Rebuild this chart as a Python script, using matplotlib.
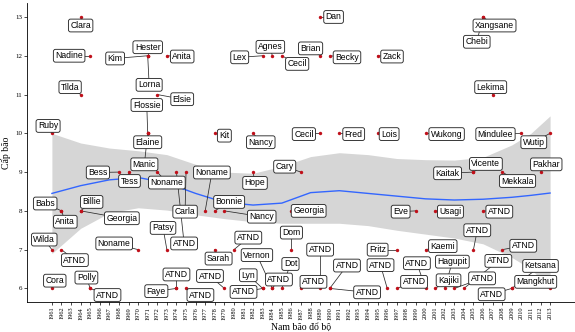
import matplotlib
matplotlib.use("Agg")
import matplotlib.pyplot as plt

# storms: name, landfall year, level
names = ["Ruby", "Babs", "Anita", "Wilda", "ATND", "Cora", "Clara", "Nadine", "Tilda",
         "Billie", "Georgia", "Polly", "ATND", "Bess", "Tess", "Noname", "Hester", "Kim",
         "Lorna", "Flossie", "Elaine", "Manic", "Elsie", "Anita", "Noname", "Patsy",
         "ATND", "Carla", "Faye", "ATND", "ATND", "Noname", "Kit", "Bonnie", "Nancy",
         "Sarah", "ATND", "ATND", "ATND", "Lyn", "Vernon", "Lex", "Agnes", "Cecil",
         "Nancy", "Hope", "ATND", "Dot", "Dom", "Georgia", "Cary", "ATND", "ATND",
         "ATND", "ATND", "Dan", "Brian", "Becky", "Cecil", "Fred", "Zack", "Lois",
         "Fritz", "ATND", "ATND", "Eve", "Wukong", "Kaemi", "ATND", "Usagi", "Kajiki",
         "Hagupit", "ATND", "ATND", "Kaitak", "Vicente", "ATND", "Xangsane", "Chebi",
         "ATND", "Lekima", "Mekkala", "ATND", "ATND", "Ketsana", "Mindulee", "Pakhar",
         "Wutip", "Mangkhut"]
years = [1961, 1962, 1962, 1961, 1962, 1961, 1964, 1965, 1964,
         1964, 1964, 1965, 1965, 1968, 1969, 1970, 1971, 1971,
         1971, 1971, 1971, 1971, 1972, 1973, 1972, 1973,
         1974, 1975, 1974, 1974, 1975, 1977, 1978, 1978, 1979,
         1978, 1980, 1979, 1983, 1983, 1984, 1983, 1984, 1985,
         1982, 1982, 1984, 1985, 1986, 1986, 1987, 1987, 1989,
         1990, 1990, 1989, 1989, 1990, 1989, 1991, 1995, 1995,
         1997, 1996, 1997, 1999, 2000, 2000, 2000, 2001, 2001,
         2002, 2003, 2004, 2005, 2005, 2005, 2006, 2006,
         2006, 2007, 2008, 2008, 2009, 2009, 2010, 2012,
         2013, 2013]
levels = [10, 8, 8, 7, 7, 6, 13, 12, 11,
          8, 8, 6, 6, 9, 9, 7, 12, 12,
          12, 10, 10, 10, 11, 12, 9, 7,
          9, 9, 6, 6, 6, 8, 10, 8, 8,
          7, 7, 6, 6, 6, 6, 12, 12, 12,
          10, 9, 6, 6, 7, 8, 9, 6, 6,
          6, 6, 13, 12, 12, 10, 10, 12, 10,
          7, 6, 6, 8, 10, 7, 6, 8, 6,
          6, 6, 6, 9, 9, 7, 13, 13,
          8, 11, 9, 7, 6, 6, 10, 9,
          10, 6]

# where each repelled label box sits
label_x = [1960.6, 1960.3, 1962.4, 1960.2, 1963.4, 1961.3, 1964.0, 1962.8, 1962.9,
           1965.15, 1968.3, 1964.6, 1966.8, 1965.8, 1969.1, 1967.5, 1971.0, 1967.6,
           1971.15, 1970.9, 1971.0, 1970.65, 1974.6, 1974.6, 1973.0, 1972.6,
           1974.8, 1974.9, 1971.9, 1974.0, 1976.5, 1977.7, 1979.0, 1979.5, 1982.9,
           1978.4, 1981.5, 1977.5, 1981.0, 1981.5, 1982.4, 1980.6, 1983.8, 1986.6,
           1982.8, 1982.2, 1984.7, 1985.9, 1986.0, 1987.8, 1985.3, 1988.3, 1989.0,
           1991.8, 1993.9, 1990.4, 1988.0, 1991.8, 1987.3, 1992.5, 1996.5, 1996.2,
           1995.0, 1995.3, 1998.8, 1997.4, 2002.2, 2001.8, 1999.1, 2002.6, 2002.4,
           2002.8, 2005.9, 2007.6, 2002.3, 2006.3, 2005.4, 2007.2, 2005.35,
           2007.7, 2006.8, 2009.6, 2010.2, 2006.9, 2012.0, 2007.3, 2012.6,
           2011.3, 2011.5]
label_y = [10.19, 8.19, 7.72, 7.26, 6.73, 6.2, 12.78, 12.0, 11.19,
           8.23, 7.81, 6.28, 5.83, 8.99, 8.77, 7.16, 12.22, 11.93,
           11.25, 10.73, 9.77, 9.2, 10.88, 11.98, 8.73, 7.56,
           7.16, 7.98, 5.93, 6.36, 5.83, 8.99, 9.94, 8.23, 7.85,
           6.77, 7.31, 6.32, 5.91, 6.34, 6.86, 11.96, 12.23, 11.79,
           9.77, 8.72, 6.23, 6.63, 7.44, 8.0, 9.14, 6.17, 7.0,
           6.59, 5.9, 13.0, 12.19, 11.96, 9.98, 9.98, 11.98, 9.98,
           7.0, 6.6, 6.17, 7.98, 9.98, 7.09, 6.65, 7.98, 6.21,
           6.69, 6.26, 6.71, 8.97, 9.21, 7.5, 12.78, 12.36,
           7.98, 11.19, 8.77, 7.1, 5.85, 6.58, 9.98, 9.2,
           9.77, 6.17]

# smoothed trend and its confidence band
smooth_years = [1961, 1964, 1967, 1970, 1973, 1976, 1979, 1982, 1985, 1988,
                1991, 1994, 1997, 2000, 2003, 2006, 2009, 2011, 2013]
smooth_fit = [8.45, 8.65, 8.8, 8.86, 8.72, 8.45, 8.22, 8.15, 8.2, 8.47,
              8.52, 8.45, 8.38, 8.31, 8.28, 8.3, 8.35, 8.4, 8.46]
band_high = [10.0, 9.75, 9.62, 9.55, 9.45, 9.2, 9.0, 8.97, 9.15, 9.4,
             9.5, 9.45, 9.35, 9.32, 9.31, 9.38, 9.7, 10.0, 10.45]
band_low = [6.9, 7.55, 7.95, 8.08, 8.02, 7.9, 7.8, 7.72, 7.68, 7.68,
            7.68, 7.62, 7.5, 7.4, 7.3, 7.15, 6.8, 6.5, 6.0]

year_ticks = list(range(1961, 2014))
level_ticks = [6, 7, 8, 9, 10, 11, 12, 13]

serif = ["Liberation Serif", "DejaVu Serif"]

fig = plt.figure(figsize=(5.75, 3.32), dpi=100)
ax = fig.add_axes([27 / 575, 30 / 332, 548 / 575, 298.6 / 332])

ax.fill_between(smooth_years, band_low, band_high, color="#d6d6d6", lw=0, zorder=1)
ax.plot(smooth_years, smooth_fit, color="#3366ff", lw=1.0, zorder=2)

for x, y, lx, ly in zip(years, levels, label_x, label_y):
    ax.plot([lx, x], [ly, y], color="#2a2a2a", lw=0.55, zorder=3)

ax.scatter(years, levels, s=6, color="#c0101a", lw=0, zorder=4)

for name, lx, ly in zip(names, label_x, label_y):
    ax.text(lx, ly, name, ha="center", va="center", fontsize=6.2,
            family=["Liberation Sans", "DejaVu Sans"], zorder=5,
            bbox=dict(boxstyle="round,pad=0.22,rounding_size=0.25",
                      fc="white", ec="#2a2a2a", lw=0.65))

ax.set_xlim(1958.4, 2015.6)
ax.set_ylim(5.65, 13.35)
ax.set_xticks(year_ticks)
ax.set_xticklabels([str(y) for y in year_ticks], rotation=90, fontsize=4.6, family=serif)
ax.set_yticks(level_ticks)
ax.set_yticklabels([str(v) for v in level_ticks], fontsize=5, family=serif)
ax.tick_params(length=2, width=0.5, pad=1.5)

for side in ["top", "right"]:
    ax.spines[side].set_visible(False)
for side in ["left", "bottom"]:
    ax.spines[side].set_linewidth(0.6)

ax.set_xlabel("Nam bão đổ bộ", fontsize=7, family=serif, labelpad=2)
ax.set_ylabel("Cấp bão", fontsize=7, family=serif, labelpad=3)

fig.savefig("out.png", dpi=100)
